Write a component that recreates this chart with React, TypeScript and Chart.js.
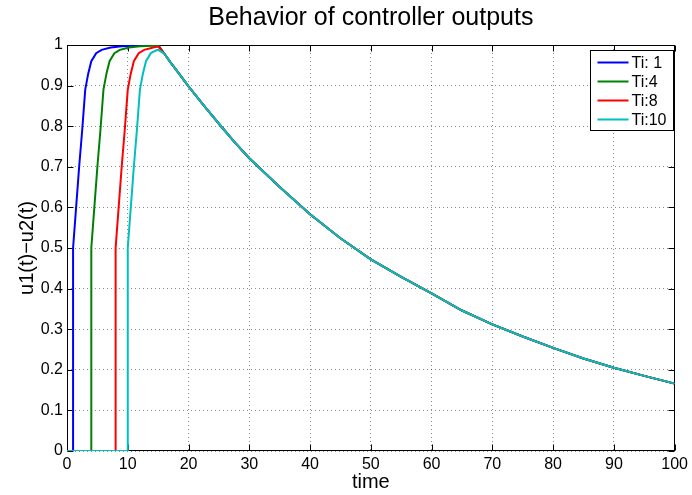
import { useEffect, useRef } from "react";
import { Chart, registerables } from "chart.js";

Chart.register(...registerables);

const FONT = "'Liberation Sans', Arial, Helvetica, sans-serif";

// Legend labels and line colours, one per integral time Ti
const seriesLabels = ["Ti: 1", "Ti:4", "Ti:8", "Ti:10"];
const seriesColors = ["#0000ff", "#008000", "#ff0000", "#00bfbf"];

// Rising part of each output (from t = 0 up to the switch at t = 15)
const riseTime1 = [0, 1, 1, 1.5, 2, 2.5, 3, 3.5, 4, 4.8, 5.7, 7.2, 9, 12, 15];
const riseValue1 = [0, 0, 0.5, 0.6, 0.7, 0.79, 0.89, 0.93, 0.96, 0.98, 0.988, 0.994, 0.997, 0.999, 1];

const riseTime4 = [0, 4, 4, 4.5, 5, 5.5, 6, 6.5, 7, 7.8, 8.7, 10.2, 12, 15];
const riseValue4 = [0, 0, 0.5, 0.6, 0.7, 0.79, 0.89, 0.93, 0.96, 0.98, 0.988, 0.994, 0.997, 0.999];

const riseTime8 = [0, 8, 8, 8.5, 9, 9.5, 10, 10.5, 11, 11.8, 12.7, 14.2, 15];
const riseValue8 = [0, 0, 0.5, 0.6, 0.7, 0.79, 0.89, 0.93, 0.96, 0.98, 0.988, 0.994, 0.996];

const riseTime10 = [0, 10, 10, 10.5, 11, 11.5, 12, 12.5, 13, 13.8, 14.7, 15];
const riseValue10 = [0, 0, 0.5, 0.6, 0.7, 0.79, 0.89, 0.93, 0.96, 0.98, 0.987, 0.988];

// Common decay after t = 15 (all four outputs coincide here)
const tailTime = [16, 17, 18, 20, 22.5, 25, 27.5, 30, 35, 40, 45, 50, 55, 60, 65, 70, 75, 80, 85, 90, 95, 100];
const tailValue = [0.979, 0.958, 0.938, 0.898, 0.851, 0.806, 0.762, 0.721, 0.65, 0.583, 0.524, 0.472, 0.429, 0.388, 0.346, 0.312, 0.282, 0.254, 0.228, 0.205, 0.185, 0.166];

const xTicks = [0, 10, 20, 30, 40, 50, 60, 70, 80, 90, 100];
const yTicks = [0, 0.1, 0.2, 0.3, 0.4, 0.5, 0.6, 0.7, 0.8, 0.9, 1];

const riseTimes = [riseTime1, riseTime4, riseTime8, riseTime10];
const riseValues = [riseValue1, riseValue4, riseValue8, riseValue10];

function toPoints(t: number[], v: number[]) {
  return t.map((x, i) => ({ x, y: v[i] }));
}

// Axes box with inward tick marks, drawn under the curves; legend on top
const framePlugin = {
  id: "frame",
  beforeDatasetsDraw(chart: any) {
    const { ctx, chartArea: a, scales } = chart;
    const L = Math.round(a.left) + 0.5;
    const R = Math.round(a.right) - 0.5;
    const T = Math.round(a.top) + 0.5;
    const B = Math.round(a.bottom) - 0.5;
    const len = 6;
    ctx.save();
    ctx.strokeStyle = "#000";
    ctx.lineWidth = 1;
    ctx.setLineDash([]);
    ctx.strokeRect(L, T, R - L, B - T);
    ctx.beginPath();
    xTicks.forEach((v) => {
      const px = Math.round(scales.x.getPixelForValue(v)) + 0.5;
      ctx.moveTo(px, B);
      ctx.lineTo(px, B - len);
      ctx.moveTo(px, T);
      ctx.lineTo(px, T + len);
    });
    yTicks.forEach((v) => {
      const py = Math.round(scales.y.getPixelForValue(v)) + 0.5;
      ctx.moveTo(L, py);
      ctx.lineTo(L + len, py);
      ctx.moveTo(R, py);
      ctx.lineTo(R - len, py);
    });
    ctx.stroke();
    ctx.restore();
  },
  afterDraw(chart: any) {
    const { ctx, chartArea: a } = chart;
    const w = 83;
    const rowH = 19;
    const h = rowH * seriesLabels.length + 4;
    const x0 = Math.round(a.right - 2 - w) + 0.5;
    const y0 = Math.round(a.top + 5) + 0.5;
    ctx.save();
    ctx.fillStyle = "#fff";
    ctx.fillRect(x0, y0, w, h);
    ctx.strokeStyle = "#000";
    ctx.lineWidth = 1;
    ctx.strokeRect(x0, y0, w, h);
    ctx.font = `16px ${FONT}`;
    ctx.textBaseline = "middle";
    ctx.textAlign = "left";
    chart.data.datasets.forEach((ds: any, i: number) => {
      const cy = y0 + 12 + i * rowH;
      ctx.strokeStyle = ds.borderColor;
      ctx.lineWidth = 2;
      ctx.beginPath();
      ctx.moveTo(x0 + 7, cy);
      ctx.lineTo(x0 + 38, cy);
      ctx.stroke();
      ctx.fillStyle = "#000";
      ctx.fillText(ds.label, x0 + 41, cy + 1);
    });
    ctx.restore();
  },
};

export default function App() {
  const canvasRef = useRef<HTMLCanvasElement | null>(null);

  useEffect(() => {
    document.body.style.margin = "0";
    const canvas = canvasRef.current;
    if (!canvas) return;

    const datasets = seriesLabels.map((label, i) => ({
      label,
      data: [...toPoints(riseTimes[i], riseValues[i]), ...toPoints(tailTime, tailValue)],
      borderColor: seriesColors[i],
      backgroundColor: seriesColors[i],
      borderWidth: 2,
      pointRadius: 0,
      tension: 0,
      fill: false,
      order: seriesLabels.length - i,
    }));

    const chart = new Chart(canvas, {
      type: "line",
      data: { datasets },
      plugins: [framePlugin],
      options: {
        animation: false,
        responsive: false,
        devicePixelRatio: 1,
        layout: { padding: { top: 0, right: 15, bottom: 0, left: 0 } },
        plugins: {
          legend: { display: false },
          tooltip: { enabled: false },
          title: {
            display: true,
            text: "Behavior of controller outputs",
            fullSize: false,
            color: "#000",
            font: { family: FONT, size: 25, weight: "normal" },
            padding: { top: 3, bottom: 12 },
          },
        },
        scales: {
          x: {
            type: "linear",
            min: 0,
            max: 100,
            afterBuildTicks: (s: any) => {
              s.ticks = xTicks.map((value) => ({ value }));
            },
            afterFit: (s: any) => {
              s.height = 44;
            },
            ticks: {
              color: "#000",
              font: { family: FONT, size: 16 },
              padding: 4,
              maxRotation: 0,
              autoSkip: false,
              callback: (v: any) => String(v),
            },
            grid: { color: "rgba(0,0,0,0.45)", lineWidth: 1, drawTicks: false },
            border: { display: false, dash: [1, 3] },
            title: {
              display: true,
              text: "time",
              color: "#000",
              font: { family: FONT, size: 20 },
              padding: { top: 0, bottom: 1 },
            },
          },
          y: {
            type: "linear",
            min: 0,
            max: 1,
            afterBuildTicks: (s: any) => {
              s.ticks = yTicks.map((value) => ({ value }));
            },
            afterFit: (s: any) => {
              s.width = 67;
            },
            ticks: {
              color: "#000",
              font: { family: FONT, size: 16 },
              padding: 4,
              autoSkip: false,
              callback: (v: any) => String(Math.round(Number(v) * 10) / 10),
            },
            grid: { color: "rgba(0,0,0,0.45)", lineWidth: 1, drawTicks: false },
            border: { display: false, dash: [1, 3] },
            title: {
              display: true,
              text: "u1(t)\u2212u2(t)",
              color: "#000",
              font: { family: FONT, size: 20 },
              padding: { top: 15, bottom: 0 },
            },
          },
        },
      } as any,
    });

    return () => chart.destroy();
  }, []);

  return (
    <div style={{ width: 692, height: 495, background: "#fff" }}>
      <canvas ref={canvasRef} width={692} height={495} style={{ display: "block" }} />
    </div>
  );
}
